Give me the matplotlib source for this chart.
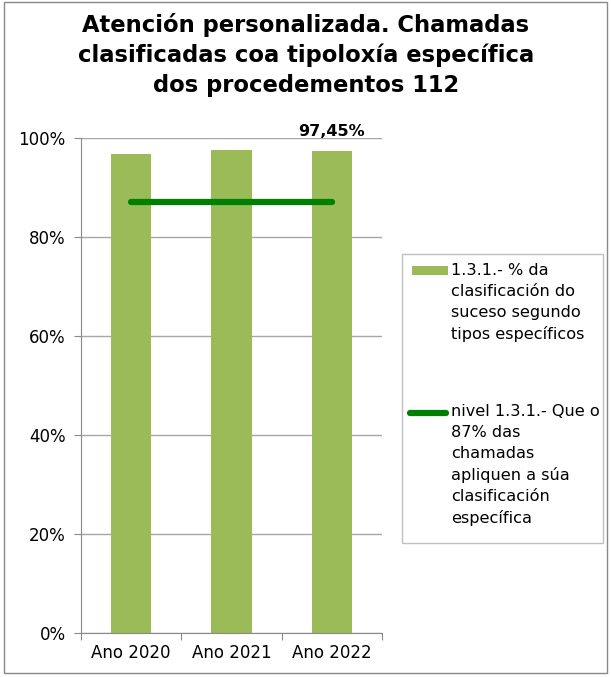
import matplotlib.pyplot as plt
from matplotlib.patches import Rectangle
from matplotlib.lines import Line2D

categories = ['Ano 2020', 'Ano 2021', 'Ano 2022']
values = [96.85, 97.5, 97.45]
target = [87, 87, 87]
yticks = [0, 20, 40, 60, 80, 100]

bar_label = '1.3.1.- % da\nclasificación do\nsuceso segundo\ntipos específicos'
line_label = 'nivel 1.3.1.- Que o\n87% das\nchamadas\napliquen a súa\nclasificación\nespecífica'
title = 'Atención personalizada. Chamadas\nclasificadas coa tipoloxía específica\ndos procedementos 112'

plt.rcParams['font.family'] = ['DejaVu Sans']

W, H = 611, 677
fig = plt.figure(figsize=(W / 100, H / 100), dpi=100)
ax = fig.add_axes([81 / W, 1 - 633 / H, 301 / W, 495 / H])

bar_color = '#9bbb59'
line_color = '#008000'
x = range(len(categories))
ax.bar(x, values, width=0.4, color=bar_color, zorder=2)
ax.plot(x, target, color=line_color, lw=4.5, solid_capstyle='round', zorder=3)

ax.text(2, values[2] + 2.4, '97,45%', ha='center', va='bottom',
        fontsize=11.5, fontweight='bold')

ax.set_xlim(-0.5, 2.5)
ax.set_ylim(0, 100)
ax.set_yticks(yticks)
ax.set_yticklabels([f'{v}%' for v in yticks], fontsize=12)
ax.set_xticks([-0.5, 0.5, 1.5, 2.5], minor=False)
ax.set_xticklabels([])
ax.set_xticks(list(x), minor=True)
ax.set_xticklabels(categories, minor=True, fontsize=12)
ax.tick_params(axis='x', which='minor', length=0, pad=8)
ax.tick_params(axis='x', which='major', length=5, color='#888888')
ax.tick_params(axis='y', length=5, color='#888888', pad=6)
ax.grid(axis='y', color='#a6a6a6', lw=1, zorder=0)
for s in ['top', 'right']:
    ax.spines[s].set_visible(False)
for s in ['left', 'bottom']:
    ax.spines[s].set_color('#888888')

fig.text(306 / W, 1 - 55 / H, title, ha='center', va='center', fontsize=16.3,
         fontweight='bold', linespacing=1.38)

# legend drawn by hand so that each key sits on the first line of its label
def fx(px):
    return px / W

def fy(py):
    return 1 - py / H

fig.patches.append(Rectangle((fx(402), fy(543)), fx(201), 289 / H, transform=fig.transFigure,
                             fill=False, edgecolor='#bfbfbf', lw=1))
fig.patches.append(Rectangle((fx(412), fy(275)), fx(36), 9 / H, transform=fig.transFigure,
                             color=bar_color, lw=0))
fig.lines.append(Line2D([fx(410), fx(446)], [fy(413), fy(413)], transform=fig.transFigure,
                        color=line_color, lw=4.5, solid_capstyle='round'))
fig.text(fx(451), fy(263), bar_label, ha='left', va='top', fontsize=11.6, linespacing=1.48)
fig.text(fx(451), fy(404), line_label, ha='left', va='top', fontsize=11.6, linespacing=1.48)

fig.patches.append(Rectangle((4 / W, 4 / H), 603 / W, 671 / H, transform=fig.transFigure,
                             fill=False, edgecolor='#888888', lw=1))

fig.savefig('out.png', dpi=100)
